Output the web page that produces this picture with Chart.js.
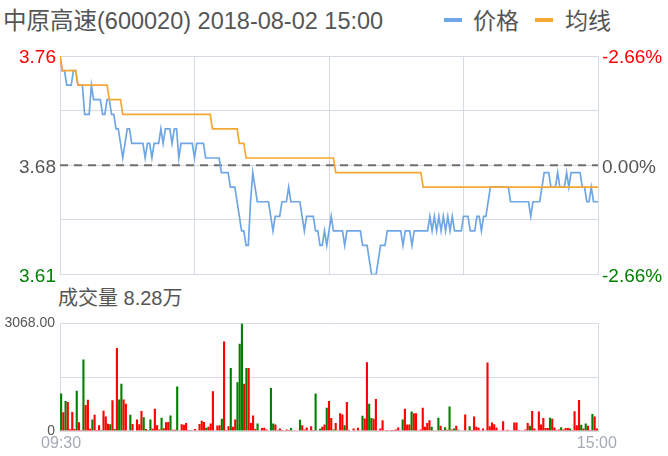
<!DOCTYPE html>
<html>
<head>
<meta charset="utf-8">
<script src="https://cdn.jsdelivr.net/npm/chart.js@4.4.1/dist/chart.umd.min.js"></script>
<style>
  body { margin: 0; background: #fff; }
  #page { position: relative; width: 668px; height: 456px; overflow: hidden;
          font-family: "Liberation Sans", "Noto Sans CJK SC", sans-serif; color: #555; }
  .txt { position: absolute; white-space: nowrap; }
  #title { left: 3px; top: 8px; font-size: 23.5px; line-height: 26px; }
  .sw { position: absolute; top: 18px; width: 18px; height: 4px; }
  .lg { top: 8px; font-size: 23px; line-height: 26px; }
  #volLabel { left: 58px; top: 286px; font-size: 20px; line-height: 24px; }
  #priceBox { position: absolute; left: 0; top: 0; width: 668px; height: 290px; }
  #volBox { position: absolute; left: 0; top: 310px; width: 668px; height: 146px; }
</style>
</head>
<body>
<div id="page">
  <div id="title" class="txt">中原高速(600020) 2018-08-02 15:00</div>
  <div class="sw" style="left:444px;background:#6fa6e6"></div>
  <div class="txt lg" style="left:473px">价格</div>
  <div class="sw" style="left:535px;background:#f5a733"></div>
  <div class="txt lg" style="left:565px">均线</div>
  <div id="volLabel" class="txt">成交量 8.28万</div>
  <div id="priceBox"><canvas id="priceCanvas" width="668" height="290"></canvas></div>
  <div id="volBox"><canvas id="volCanvas" width="668" height="146"></canvas></div>
</div>
<script>
// 分时价格 (每分钟, 09:30 - 15:00)
const price = [
  3.76,3.75,3.75,3.74,3.74,3.74,3.75,3.75,3.74,3.74,
  3.74,3.72,3.72,3.72,3.74,3.73,3.73,3.73,3.73,3.72,
  3.72,3.73,3.73,3.72,3.72,3.71,3.71,3.70,3.69,3.70,
  3.71,3.71,3.70,3.70,3.70,3.70,3.70,3.70,3.69,3.70,
  3.70,3.69,3.70,3.70,3.70,3.71,3.70,3.71,3.71,3.71,
  3.70,3.71,3.71,3.69,3.70,3.70,3.70,3.70,3.70,3.70,
  3.69,3.70,3.70,3.70,3.70,3.69,3.69,3.69,3.69,3.69,
  3.69,3.69,3.68,3.68,3.68,3.68,3.67,3.67,3.67,3.66,
  3.65,3.64,3.64,3.63,3.63,3.66,3.68,3.67,3.66,3.66,
  3.66,3.66,3.66,3.66,3.65,3.64,3.65,3.65,3.65,3.66,
  3.66,3.66,3.67,3.66,3.66,3.66,3.66,3.66,3.65,3.64,
  3.65,3.65,3.65,3.65,3.64,3.64,3.63,3.63,3.64,3.63,
  3.64,3.65,3.64,3.64,3.64,3.64,3.64,3.63,3.64,3.64,
  3.64,3.64,3.64,3.64,3.64,3.63,3.63,3.63,3.62,3.61,
  3.61,3.61,3.62,3.63,3.63,3.63,3.64,3.64,3.64,3.64,
  3.64,3.64,3.64,3.63,3.64,3.64,3.64,3.63,3.64,3.64,
  3.64,3.64,3.64,3.64,3.64,3.65,3.64,3.65,3.64,3.65,
  3.64,3.65,3.64,3.65,3.64,3.65,3.64,3.64,3.64,3.64,
  3.65,3.65,3.65,3.64,3.64,3.64,3.65,3.65,3.64,3.65,
  3.65,3.66,3.67,3.67,3.67,3.67,3.67,3.67,3.67,3.67,
  3.67,3.66,3.66,3.66,3.66,3.66,3.66,3.66,3.66,3.66,
  3.65,3.66,3.66,3.66,3.66,3.67,3.68,3.68,3.68,3.67,
  3.67,3.67,3.68,3.67,3.67,3.67,3.68,3.67,3.68,3.68,
  3.68,3.68,3.68,3.67,3.67,3.66,3.66,3.67,3.66,3.66,
  3.66
];

// 均价
const avgPrice = [
  3.76,3.75,3.75,3.75,3.75,3.75,3.75,3.75,3.74,3.74,
  3.74,3.74,3.74,3.74,3.74,3.74,3.74,3.74,3.74,3.74,
  3.74,3.74,3.73,3.73,3.73,3.73,3.73,3.73,3.72,3.72,
  3.72,3.72,3.72,3.72,3.72,3.72,3.72,3.72,3.72,3.72,
  3.72,3.72,3.72,3.72,3.72,3.72,3.72,3.72,3.72,3.72,
  3.72,3.72,3.72,3.72,3.72,3.72,3.72,3.72,3.72,3.72,
  3.72,3.72,3.72,3.72,3.72,3.72,3.72,3.72,3.71,3.71,
  3.71,3.71,3.71,3.71,3.71,3.71,3.71,3.71,3.71,3.71,
  3.70,3.70,3.70,3.69,3.69,3.69,3.69,3.69,3.69,3.69,
  3.69,3.69,3.69,3.69,3.69,3.69,3.69,3.69,3.69,3.69,
  3.69,3.69,3.69,3.69,3.69,3.69,3.69,3.69,3.69,3.69,
  3.69,3.69,3.69,3.69,3.69,3.69,3.69,3.69,3.69,3.69,
  3.69,3.69,3.69,3.68,3.68,3.68,3.68,3.68,3.68,3.68,
  3.68,3.68,3.68,3.68,3.68,3.68,3.68,3.68,3.68,3.68,
  3.68,3.68,3.68,3.68,3.68,3.68,3.68,3.68,3.68,3.68,
  3.68,3.68,3.68,3.68,3.68,3.68,3.68,3.68,3.68,3.68,
  3.68,3.68,3.67,3.67,3.67,3.67,3.67,3.67,3.67,3.67,
  3.67,3.67,3.67,3.67,3.67,3.67,3.67,3.67,3.67,3.67,
  3.67,3.67,3.67,3.67,3.67,3.67,3.67,3.67,3.67,3.67,
  3.67,3.67,3.67,3.67,3.67,3.67,3.67,3.67,3.67,3.67,
  3.67,3.67,3.67,3.67,3.67,3.67,3.67,3.67,3.67,3.67,
  3.67,3.67,3.67,3.67,3.67,3.67,3.67,3.67,3.67,3.67,
  3.67,3.67,3.67,3.67,3.67,3.67,3.67,3.67,3.67,3.67,
  3.67,3.67,3.67,3.67,3.67,3.67,3.67,3.67,3.67,3.67,
  3.67
];

// 成交量 (手)
const volume = [
  1070,533,855,830,50,545,55,1150,250,30,
  2040,740,890,65,330,460,30,165,25,580,
  415,210,195,880,55,2370,900,1350,898,780,
  20,460,200,15,330,195,570,395,55,30,
  330,65,635,165,45,380,75,250,260,440,
  35,35,1270,10,195,180,230,30,25,10,
  55,18,200,295,258,92,120,212,1133,10,
  157,166,350,2551,28,138,1796,120,331,1391,
  2487,3068,1345,1796,1796,230,442,55,212,5,
  83,92,46,10,1225,212,184,28,74,28,
  10,46,28,83,10,18,18,322,166,46,
  101,10,138,28,1068,10,64,120,184,663,
  857,368,46,230,10,507,470,166,829,28,
  0,74,5,92,5,433,359,1962,774,368,
  350,912,10,74,304,5,28,5,28,28,
  46,101,10,331,635,184,184,553,507,507,
  5,46,663,120,230,304,120,5,10,378,
  147,28,110,37,700,46,74,147,37,5,
  5,470,5,138,28,414,120,92,18,74,
  5,1952,138,240,193,101,5,10,276,5,
  37,5,18,240,240,28,5,5,46,230,
  147,571,74,18,553,184,368,83,83,378,
  350,101,28,46,110,46,83,83,74,28,
  562,166,884,175,74,212,147,28,488,414,
  74
];

// 1 = 上涨(红), 0 = 下跌(绿)
const volUp = [
  0,1,0,1,1,1,1,0,1,1,
  0,1,1,1,0,1,1,1,0,1,
  1,1,0,1,0,1,0,0,1,1,
  1,0,1,1,1,1,1,0,1,0,
  0,1,1,1,1,0,1,1,1,0,
  1,1,0,1,1,1,1,1,0,1,
  1,1,1,1,1,0,1,1,1,1,
  1,1,0,1,1,1,0,1,1,0,
  0,0,1,0,1,1,1,1,0,1,
  1,1,1,1,0,0,1,1,1,1,
  1,1,1,0,1,1,1,0,1,1,
  1,1,1,1,0,1,0,1,1,0,
  1,1,0,1,1,1,1,0,1,1,
  1,1,1,1,1,0,1,1,0,0,
  1,1,1,1,1,1,1,1,1,1,
  1,1,1,0,1,1,1,0,1,1,
  1,1,1,1,1,1,0,1,1,0,
  1,1,0,1,0,1,0,1,0,1,
  1,1,1,0,1,1,1,1,1,1,
  1,1,1,1,1,1,1,1,1,1,
  1,1,1,1,1,1,1,1,1,1,
  0,1,1,1,1,1,1,1,1,0,
  1,1,1,1,0,1,1,1,0,1,
  1,1,1,0,1,0,1,1,0,1,
  1
];

const prevClose = 3.685;
const priceMin = 3.61;
const priceMax = 3.76;
const priceTicks = [3.61, 3.6475, 3.685, 3.7225, 3.76];
const priceTickLabels = ['3.61', '', '3.68', '', '3.76'];
const pctTickLabels = ['-2.66%', '', '0.00%', '', '-2.66%'];
const tickColors = ['#008000', '#555', '#555', '#555', '#ff0000'];

const volMax = 3068;
const volTicks = [0, 1534, 3068];
const volTickLabels = ['0', '', '3068.00'];

// 分钟标签 09:30-11:30, 13:01-15:00
const timeLabels = [];
function pad(n) { return (n < 10 ? '0' : '') + n; }
for (let t = 9 * 60 + 30; t <= 11 * 60 + 30; t++) timeLabels.push(pad(Math.floor(t / 60)) + ':' + pad(t % 60));
for (let t = 13 * 60 + 1; t <= 15 * 60; t++) timeLabels.push(pad(Math.floor(t / 60)) + ':' + pad(t % 60));

const gridColor = '#d5dbe4';
const fontFamily = '"Liberation Sans", Arial, sans-serif';

// 昨收虚线
const prevCloseLine = {
    id: 'prevCloseLine',
    beforeDatasetsDraw(chart) {
        const y = chart.scales.y.getPixelForValue(prevClose);
        const area = chart.chartArea;
        const ctx = chart.ctx;
        ctx.save();
        ctx.strokeStyle = '#6e6e6e';
        ctx.lineWidth = 2;
        ctx.setLineDash([8, 6]);
        ctx.beginPath();
        ctx.moveTo(area.left, y);
        ctx.lineTo(area.right, y);
        ctx.stroke();
        ctx.restore();
    }
};

const priceAxisTicks = (labels) => ({
    font: { family: fontFamily, size: 19 },
    color: (c) => tickColors[c.index],
    padding: 4,
    labelOffset: 2,
    autoSkip: false,
    callback: (v, i) => labels[i]
});

new Chart(document.getElementById('priceCanvas'), {
    type: 'line',
    data: {
        datasets: [
            {
                label: '均线',
                data: avgPrice.map((v, i) => ({ x: i, y: v })),
                borderColor: '#f5a733',
                borderWidth: 1.7,
                pointRadius: 0,
                order: 0
            },
            {
                label: '价格',
                data: price.map((v, i) => ({ x: i, y: v })),
                borderColor: '#6fa6e6',
                borderWidth: 1.7,
                pointRadius: 0,
                order: 1
            }
        ]
    },
    options: {
        responsive: false,
        animation: false,
        layout: { padding: { top: 56, bottom: 15, left: 0, right: 0 } },
        plugins: { legend: { display: false }, tooltip: { enabled: false } },
        scales: {
            x: {
                type: 'linear', min: 0, max: timeLabels.length - 1,
                ticks: { display: false, stepSize: 60 },
                grid: { color: gridColor, drawTicks: false },
                border: { display: false },
                afterFit: (s) => { s.height = 0; }
            },
            y: {
                position: 'left', min: priceMin, max: priceMax,
                afterBuildTicks: (s) => { s.ticks = priceTicks.map(v => ({ value: v })); },
                ticks: priceAxisTicks(priceTickLabels),
                grid: { color: gridColor, drawTicks: false },
                border: { color: gridColor },
                afterFit: (s) => { s.width = 60; }
            },
            y1: {
                position: 'right', min: priceMin, max: priceMax,
                afterBuildTicks: (s) => { s.ticks = priceTicks.map(v => ({ value: v })); },
                ticks: priceAxisTicks(pctTickLabels),
                grid: { drawOnChartArea: false, drawTicks: false },
                border: { color: gridColor },
                afterFit: (s) => { s.width = 70; }
            }
        }
    },
    plugins: [prevCloseLine]
});

new Chart(document.getElementById('volCanvas'), {
    type: 'bar',
    data: {
        labels: timeLabels,
        datasets: [{
            label: '成交量',
            data: volume,
            backgroundColor: volUp.map(u => u ? '#ff0000' : '#008000'),
            borderWidth: 0,
            barPercentage: 0.95,
            categoryPercentage: 1
        }]
    },
    options: {
        responsive: false,
        animation: false,
        layout: { padding: { top: 10, bottom: 0, left: 0, right: 0 } },
        plugins: { legend: { display: false }, tooltip: { enabled: false } },
        scales: {
            x: {
                offset: true,
                grid: { display: false, drawTicks: false, tickLength: 0 },
                border: { display: false },
                ticks: {
                    autoSkip: false, maxRotation: 0, padding: 3,
                    font: { family: fontFamily, size: 16 },
                    color: '#a3aab6',
                    callback: (v, i) => (i === 0 || i === timeLabels.length - 1) ? timeLabels[i] : ''
                },
                afterFit: (s) => { s.height = 25; }
            },
            y: {
                position: 'left', min: 0, max: volMax,
                afterBuildTicks: (s) => { s.ticks = volTicks.map(v => ({ value: v })); },
                ticks: {
                    font: { family: fontFamily, size: 14 },
                    color: '#555', padding: 5,
                    callback: (v, i) => volTickLabels[i]
                },
                grid: { color: gridColor, drawTicks: false },
                border: { color: gridColor },
                afterFit: (s) => { s.width = 60; }
            },
            yr: {
                position: 'right', min: 0, max: volMax,
                ticks: { display: false },
                grid: { drawOnChartArea: false, drawTicks: false },
                border: { color: gridColor },
                afterFit: (s) => { s.width = 70; }
            }
        }
    }
});
</script>
</body>
</html>
